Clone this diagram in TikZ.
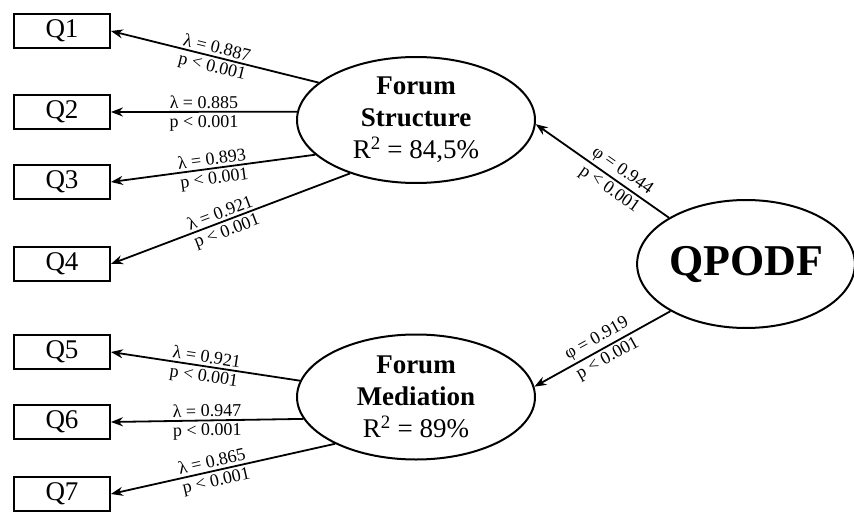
\documentclass[tikz,border=0pt]{standalone}
\usepackage{fontspec}
\setmainfont{Liberation Serif}
\usetikzlibrary{shapes.geometric,arrows.meta}

\begin{document}
\begin{tikzpicture}[x=1pt, y=-1pt,
	item/.style={draw, line width=1.8pt, minimum width=96pt, minimum height=34pt, inner sep=0pt, font=\fontsize{27}{27}\selectfont},
	factor/.style={draw, ellipse, line width=2pt, inner sep=0pt, align=center, font=\fontsize{27}{32}\selectfont},
	load/.style={-{Stealth[length=12pt,width=9pt]}, line width=1.8pt},
	coef/.style={sloped, inner sep=1pt, font=\fontsize{18}{18}\selectfont}]
	\useasboundingbox (0,0) rectangle (854,519);
	% indicators
	\node[item] (q1) at (62,31) {Q1};
	\node[item] (q2) at (62,112) {Q2};
	\node[item] (q3) at (62,182) {Q3};
	\node[item] (q4) at (62,264) {Q4};
	\node[item] (q5) at (62,352) {Q5};
	\node[item] (q6) at (62,422) {Q6};
	\node[item] (q7) at (62,494) {Q7};
	% factors
	\node[factor, minimum width=238pt, minimum height=126pt] (fs) at (416,120)
		{\textbf{Forum}\\\textbf{Structure}\\R\textsuperscript{2} = 84,5\%};
	\node[factor, minimum width=238pt, minimum height=125pt] (fm) at (416,397)
		{\textbf{Forum}\\\textbf{Mediation}\\R\textsuperscript{2} = 89\%};
	\node[factor, minimum width=213pt, minimum height=128pt, font=\fontsize{44}{44}\selectfont\bfseries] (qp) at (746,264) {QPODF};
	% loadings
	\draw[load] (fs.159) -- node[coef, above=1.5pt]{λ = 0.887} node[coef, below=1.5pt]{p < 0.001} (q1.east);
	\draw[load] (fs.176) -- node[coef, above=1.5pt]{λ = 0.885} node[coef, below=1.5pt]{p < 0.001} (q2.east);
	\draw[load] (fs.199) -- node[coef, above=1.5pt]{λ = 0.893} node[coef, below=1.5pt]{p < 0.001} (q3.east);
	\draw[load] (fs.219) -- node[coef, above=1.5pt, pos=0.53]{λ = 0.921} node[coef, below=1.5pt, pos=0.53]{p < 0.001} (q4.east);
	\draw[load] (fm.172) -- node[coef, above=1.5pt]{λ = 0.921} node[coef, below=1.5pt]{p < 0.001} (q5.east);
	\draw[load] (fm.191) -- node[coef, above=1.5pt]{λ = 0.947} node[coef, below=1.5pt]{p < 0.001} (q6.east);
	\draw[load] (fm.210) -- node[coef, above=1.5pt, pos=0.54]{λ = 0.865} node[coef, below=1.5pt, pos=0.54]{p < 0.001} (q7.east);
	% second order
	\draw[load] (qp.149) -- node[coef, above=1.5pt, pos=0.4]{φ = 0.944} node[coef, below=1.5pt, pos=0.4]{p < 0.001} (fs.358);
	\draw[load] (qp.212) -- node[coef, above=1.5pt]{φ = 0.919} node[coef, below=1.5pt]{p < 0.001} (fm.5);
\end{tikzpicture}
\end{document}
